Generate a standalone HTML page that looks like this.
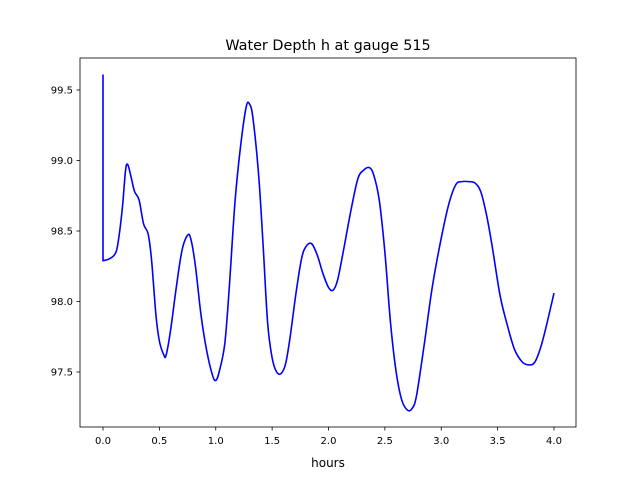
<!DOCTYPE html>
<html><head><meta charset="utf-8"><style>
body{margin:0;background:#fff}
text{font-family:"DejaVu Sans","Liberation Sans",sans-serif;fill:#000}
</style></head><body>
<svg id="chart" width="640" height="480" xmlns="http://www.w3.org/2000/svg">
<rect width="640" height="480" fill="#fff"/>
<text x="328" y="50" font-size="14.4" text-anchor="middle">Water Depth h at gauge 515</text>
<text x="328" y="467" font-size="12" text-anchor="middle">hours</text>
<g id="ticks"></g>
<path id="line" fill="none" stroke="#0000ff" stroke-width="1.6"/>
<rect x="80" y="58" width="496" height="369" fill="none" stroke="#000" stroke-width="0.8"/>
</svg>
<script>
const times=[0,0,0.05,0.1,0.13,0.17,0.2,0.22,0.25,0.28,0.32,0.36,0.4,0.43,0.47,0.5,0.54,0.56,0.6,0.65,0.7,0.75,0.78,0.82,0.87,0.92,0.97,1.0,1.03,1.08,1.12,1.17,1.22,1.27,1.3,1.33,1.38,1.42,1.46,1.5,1.54,1.58,1.62,1.66,1.71,1.76,1.8,1.85,1.9,1.95,2.0,2.04,2.08,2.13,2.2,2.26,2.31,2.36,2.4,2.45,2.5,2.55,2.6,2.65,2.7,2.74,2.78,2.85,2.92,3.0,3.07,3.13,3.18,3.25,3.3,3.35,3.4,3.45,3.52,3.58,3.65,3.72,3.78,3.83,3.88,3.93,4.0];
const depths=[99.61,98.29,98.30,98.33,98.4,98.65,98.93,98.97,98.88,98.78,98.72,98.55,98.48,98.3,97.9,97.72,97.62,97.62,97.8,98.1,98.36,98.47,98.44,98.25,97.9,97.65,97.48,97.44,97.5,97.7,98.1,98.7,99.1,99.38,99.4,99.3,98.9,98.4,97.85,97.6,97.5,97.49,97.56,97.75,98.05,98.3,98.39,98.41,98.33,98.2,98.1,98.08,98.15,98.35,98.65,98.87,98.93,98.95,98.9,98.72,98.35,97.85,97.5,97.3,97.23,97.24,97.33,97.7,98.1,98.45,98.7,98.83,98.85,98.85,98.84,98.78,98.62,98.4,98.05,97.85,97.66,97.57,97.55,97.57,97.67,97.82,98.06];
const xTicks=[0,0.5,1,1.5,2,2.5,3,3.5,4];
const xTickLabels=["0.0","0.5","1.0","1.5","2.0","2.5","3.0","3.5","4.0"];
const yTicks=[97.5,98,98.5,99,99.5];
const yTickLabels=["97.5","98.0","98.5","99.0","99.5"];
const X=t=>103+t*112.75;
const Y=h=>90+(99.5-h)*141;
const NS="http://www.w3.org/2000/svg";
const g=document.getElementById('ticks');
function mk(tag,attrs,txt){const e=document.createElementNS(NS,tag);for(const k in attrs)e.setAttribute(k,attrs[k]);if(txt)e.textContent=txt;g.appendChild(e);return e;}
xTicks.forEach((t,i)=>{
 const l=mk('line',{x1:X(t),x2:X(t),y1:427,y2:430.5,stroke:'#000','stroke-width':0.8});
 
 
 const tx=mk('text',{x:X(t),y:444,'font-size':10,'text-anchor':'middle'},xTickLabels[i]);
 
 
});
yTicks.forEach((h,i)=>{
 const l=mk('line',{x1:76.5,x2:80,y1:Y(h),y2:Y(h),stroke:'#000','stroke-width':0.8});
 
 
 const tx=mk('text',{x:73,y:Y(h)+3.5,'font-size':10,'text-anchor':'end'},yTickLabels[i]);
 
 
});
const P=times.map((t,i)=>[X(t),Y(depths[i])]);
let d=`M${P[0][0]},${P[0][1]} L${P[1][0]},${P[1][1]}`;
for(let i=1;i<P.length-1;i++){
 const p0=P[Math.max(1,i-1)],p1=P[i],p2=P[i+1],p3=P[Math.min(P.length-1,i+2)];
 const c1=[p1[0]+(p2[0]-p0[0])/6,p1[1]+(p2[1]-p0[1])/6];
 const c2=[p2[0]-(p3[0]-p1[0])/6,p2[1]-(p3[1]-p1[1])/6];
 d+=` C${c1[0]},${c1[1]} ${c2[0]},${c2[1]} ${p2[0]},${p2[1]}`;
}
document.getElementById('line').setAttribute('d',d);
</script>
</body></html>
